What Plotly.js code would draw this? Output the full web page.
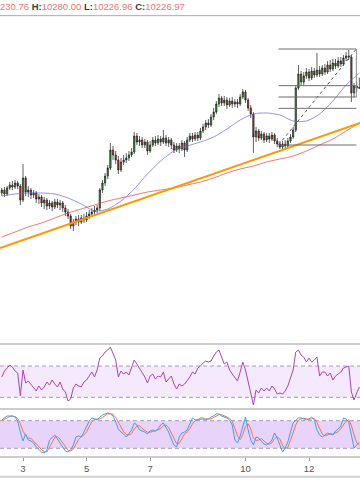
<!DOCTYPE html>
<html>
<head>
<meta charset="utf-8">
<script src="https://cdn.plot.ly/plotly-3.0.1.min.js"></script>
<style>
html,body{margin:0;padding:0;background:#fff;}
#chart{width:360px;height:504px;}
</style>
</head>
<body>
<div id="chart"></div>
<script>
// ---- data (2-hour candles starting 2019-09-02 08:00) ----
const candleStart = [2019, 8, 2, 8, 0];
const candleStepHours = 2;

const openP = [
9703,9718,9698,9728,9743,9733,9753,9738,9668,9778,
9708,9718,9693,9703,9673,9683,9653,9668,9638,9653,
9633,9658,9643,9653,9628,9608,9588,9538,9558,9573,
9558,9578,9568,9588,9598,9608,9618,9628,9718,9753,
9788,9828,9918,9893,9868,9818,9858,9868,9878,9893,
9908,9988,9958,9968,9943,9958,9913,9943,9968,9953,
9973,9958,9978,9953,9968,9943,9918,9938,9923,9953,
9918,9968,9988,9973,9993,9978,10013,10033,10053,10043,
10083,10108,10148,10178,10153,10168,10143,10163,10148,10158,
10148,10183,10208,10168,10128,10098,9983,10013,9978,9998,
9968,9988,9973,9993,9963,9948,9933,9948,9938,9963,
9983,10018,10228,10298,10258,10288,10308,10278,10313,10293,
10318,10298,10328,10308,10343,10323,10353,10338,10363,10348,
10378,10388,10383,10203,10238,10230.76];
const highP = [
9728,9733,9738,9758,9763,9768,9763,9748,9848,9788,
9738,9728,9718,9713,9698,9693,9683,9678,9668,9663,
9673,9673,9668,9663,9643,9623,9598,9573,9588,9593,
9593,9598,9608,9618,9628,9638,9643,9728,9768,9803,
9843,9953,9938,9913,9888,9878,9893,9903,9913,9928,
10008,10003,9988,9983,9973,9968,9963,9983,9988,9993,
9988,10018,9993,9983,9978,9958,9953,9953,9968,9963,
9983,10003,10003,10008,10008,10028,10048,10068,10073,10098,
10128,10163,10198,10188,10188,10183,10178,10183,10173,10173,
10198,10223,10218,10178,10143,10108,10033,10023,10013,10008,
10003,10003,10008,10003,9978,9963,9963,9968,9978,9998,
10033,10238,10343,10313,10308,10328,10323,10333,10328,10403,
10338,10343,10348,10363,10368,10373,10373,10383,10383,10393,
10408,10418,10393,10253,10258,10280.00];
const lowP = [
9688,9683,9688,9718,9718,9723,9723,9643,9658,9688,
9683,9673,9678,9653,9648,9633,9623,9618,9623,9613,
9623,9628,9618,9608,9588,9573,9523,9513,9543,9538,
9548,9553,9558,9573,9583,9593,9603,9613,9703,9738,
9773,9818,9868,9848,9798,9808,9843,9853,9863,9883,
9898,9943,9938,9928,9928,9893,9903,9933,9938,9943,
9938,9948,9938,9933,9923,9903,9908,9903,9913,9883,
9908,9958,9958,9963,9963,9968,10003,10018,10028,10033,
10068,10098,10133,10138,10138,10123,10133,10128,10133,10128,
10138,10173,10153,10113,10078,9903,9958,9963,9968,9953,
9958,9953,9963,9948,9933,9923,9918,9923,9928,9953,
9973,10008,10218,10238,10243,10273,10263,10268,10278,10283,
10283,10288,10293,10298,10308,10313,10323,10328,10333,10338,
10363,10368,10158,10183,10208,10226.96];
const closeP = [
9718,9698,9728,9743,9733,9753,9738,9668,9778,9708,
9718,9693,9703,9673,9683,9653,9668,9638,9653,9633,
9658,9643,9653,9628,9608,9588,9538,9558,9573,9558,
9578,9568,9588,9598,9608,9618,9628,9718,9753,9788,
9828,9918,9893,9868,9818,9858,9868,9878,9893,9908,
9988,9958,9968,9943,9958,9913,9943,9968,9953,9973,
9958,9978,9953,9968,9943,9918,9938,9923,9953,9918,
9968,9988,9973,9993,9978,10013,10033,10053,10043,10083,
10108,10148,10178,10153,10168,10143,10163,10148,10158,10148,
10183,10208,10168,10128,10098,9983,10013,9978,9998,9968,
9988,9973,9993,9963,9948,9933,9948,9938,9963,9983,
10018,10228,10298,10258,10288,10308,10278,10313,10293,10318,
10298,10328,10308,10343,10323,10353,10338,10363,10348,10378,
10388,10383,10203,10238,10228,10226.97];

// moving averages, one reading every 5 candles
const maEvery = 5;
const maFast = [9688,9698,9703,9703,9698,9678,9648,9613,9623,9663,9723,9798,9863,9913,
                9938,9958,9983,10023,10068,10098,10103,10093,10063,10063,10098,10163,10243,10303];
const maSlow = [9483,9508,9533,9553,9578,9603,9623,9643,9663,9678,9693,9708,9718,9728,
                9743,9758,9778,9803,9823,9838,9858,9873,9888,9913,9943,9973,10013,10053];

const rsi = [
56.0,63.6,67.4,71.3,68.7,63.6,61.1,31.7,64.9,48.3,
50.8,47.0,41.9,38.1,44.5,39.4,43.2,49.6,45.7,52.1,
47.0,43.2,49.6,40.6,36.8,25.3,27.9,41.9,47.0,44.5,
43.2,49.6,52.1,57.2,62.3,56.0,64.9,80.2,82.8,87.9,
90.4,94.3,86.6,77.7,56.0,63.6,59.8,62.3,58.5,67.4,
77.7,72.6,67.4,62.3,56.0,48.3,57.2,59.8,53.4,57.2,
56.0,62.3,49.6,53.4,57.2,47.0,40.6,47.0,44.5,47.0,
50.8,56.0,62.3,59.8,67.4,70.0,73.8,76.4,75.1,76.4,
82.8,87.9,90.4,80.2,72.6,75.1,64.9,59.8,54.7,50.8,
62.3,75.1,64.9,48.3,35.5,20.2,39.4,35.5,41.9,38.1,
41.9,38.1,44.5,40.6,34.2,35.5,34.2,38.1,44.5,54.7,
64.9,87.9,90.4,84.0,81.5,75.1,80.2,75.1,77.7,81.5,
57.2,62.3,62.3,57.2,61.1,52.1,57.2,59.8,62.3,67.4,
68.7,70.0,36.8,26.6,35.5,43.2];
const rsiUpper = 70, rsiLower = 30;

const stochK = [
81.5,85.9,90.2,90.2,90.2,88.0,79.3,55.4,35.9,51.1,
38.0,35.9,31.5,22.8,16.3,11.9,9.8,16.3,38.0,44.6,
48.9,40.2,31.5,20.6,14.1,11.9,16.3,27.2,44.6,46.7,
44.6,55.4,68.5,79.3,85.9,83.7,81.5,88.0,92.4,94.6,
96.7,94.6,90.2,77.2,62.0,55.4,51.1,44.6,51.1,59.8,
75.0,70.7,59.8,57.6,55.4,51.1,57.6,59.8,57.6,62.0,
70.7,75.0,64.1,55.4,40.2,27.2,22.8,44.6,53.3,55.4,
59.8,72.8,85.9,81.5,81.5,85.9,85.9,81.5,83.7,88.0,
90.2,94.6,94.6,90.2,88.0,85.9,81.5,70.7,38.0,31.5,
46.7,70.7,88.0,59.8,38.0,27.2,44.6,42.4,35.9,29.3,
27.2,31.5,38.0,53.3,42.4,25.0,11.9,20.6,33.7,55.4,
75.0,81.5,85.9,85.9,83.7,81.5,83.7,88.0,81.5,59.8,
48.9,44.6,48.9,53.3,51.1,48.9,57.6,62.0,68.5,85.9,
83.7,77.2,48.9,20.6,27.2,33.7];
const stochD = [
80,83,86,89,90,89,85,74,57,48,
42,42,35,30,24,17,13,12,21,33,
44,45,40,31,22,16,14,18,29,39,
45,49,56,68,78,83,84,84,87,92,
95,95,94,87,76,65,56,50,49,52,
62,68,69,63,58,55,55,56,58,60,
63,69,70,65,53,41,30,31,40,51,
56,63,73,80,83,83,84,84,84,84,
87,91,93,93,91,88,85,79,63,47,
39,50,68,73,62,42,37,38,41,36,
31,29,32,41,45,40,26,19,22,37,
55,71,81,84,85,84,83,84,85,76,
63,51,47,49,51,51,53,56,63,72,
79,82,70,49,32,27];
const stochUpper = 80, stochLower = 20;

// trend line and fibonacci drawing anchors (time, price)
const trendFrom = ['2019-09-02 06:38', 9428];
const trendTo   = ['2019-09-13 14:30', 10053];
const fibFromTime = '2019-09-11 01:00';
const fibToTime   = '2019-09-13 11:45';
const fibLow = 9943, fibHigh = 10423;
const fibLevels = [0, 0.382, 0.5, 0.618, 1];

const tickDays = ['2019-09-03','2019-09-05','2019-09-07','2019-09-10','2019-09-12'];
const tickLabels = ['3','5','7','10','12'];
const xRange = ['2019-09-02 06:38', '2019-09-13 14:30'];

// header line as visible in the reference (its left part is cut off there)
const legendLine = {o:'230.76', h:'10280.00', l:'10226.96', c:'10226.97'};

// ---- build ----
function fmt(ms){
  const d = new Date(ms), p = n => String(n).padStart(2,'0');
  return d.getUTCFullYear()+'-'+p(d.getUTCMonth()+1)+'-'+p(d.getUTCDate())+' '+p(d.getUTCHours())+':'+p(d.getUTCMinutes());
}
const t0 = Date.UTC.apply(null, candleStart);
const times = closeP.map((_, i) => fmt(t0 + i*candleStepHours*3600000));
const maTimes = maFast.map((_, i) => times[i*maEvery]);

const traces = [
  {type:'candlestick', x:times, open:openP, high:highP, low:lowP, close:closeP,
   xaxis:'x', yaxis:'y', whiskerwidth:0, hoverinfo:'skip',
   increasing:{line:{color:'#1e1e1e', width:0.7}, fillcolor:'#2aa32a'},
   decreasing:{line:{color:'#1e1e1e', width:0.7}, fillcolor:'#d32f2f'}},
  {type:'scatter', mode:'lines', x:maTimes, y:maFast, xaxis:'x', yaxis:'y',
   line:{color:'rgba(100,104,220,0.7)', width:1, shape:'spline', smoothing:0.8}, hoverinfo:'skip'},
  {type:'scatter', mode:'lines', x:maTimes, y:maSlow, xaxis:'x', yaxis:'y',
   line:{color:'rgba(240,70,70,0.75)', width:1, shape:'spline', smoothing:0.8}, hoverinfo:'skip'},
  {type:'scatter', mode:'lines', x:times, y:rsi, xaxis:'x', yaxis:'y2',
   line:{color:'#a547b8', width:1}, hoverinfo:'skip'},
  {type:'scatter', mode:'lines', x:times, y:stochD, xaxis:'x', yaxis:'y3',
   line:{color:'#ff7043', width:1}, hoverinfo:'skip'},
  {type:'scatter', mode:'lines', x:times, y:stochK, xaxis:'x', yaxis:'y3',
   line:{color:'#3f9ff0', width:1}, hoverinfo:'skip'}
];

const H = 504;
const py = px => 1 - px/H;
const shapes = [];
function hline(px, color, width){
  shapes.push({type:'line', xref:'paper', yref:'paper', x0:0, x1:1, y0:py(px), y1:py(px),
               line:{color:color, width:width}});
}
// indicator bands
shapes.push({type:'rect', xref:'paper', yref:'y2', x0:0, x1:1, y0:rsiLower, y1:rsiUpper,
             fillcolor:'#f4e9fd', line:{width:0}, layer:'below'});
shapes.push({type:'rect', xref:'paper', yref:'y3', x0:0, x1:1, y0:stochLower, y1:stochUpper,
             fillcolor:'#e8d3fb', line:{width:0}, layer:'below'});
[[rsiLower,'y2'],[rsiUpper,'y2'],[stochLower,'y3'],[stochUpper,'y3']].forEach(([v,ax]) => {
  shapes.push({type:'line', xref:'paper', yref:ax, x0:0, x1:1, y0:v, y1:v,
               line:{color:'#a59cb5', width:1, dash:'4px,3px'}, layer:'below'});
});
// trend line
shapes.push({type:'line', xref:'x', yref:'y', x0:trendFrom[0], y0:trendFrom[1], x1:trendTo[0], y1:trendTo[1],
             line:{color:'#ff9800', width:2}});
// fibonacci
fibLevels.forEach(r => {
  const v = fibLow + r*(fibHigh - fibLow);
  shapes.push({type:'line', xref:'x', yref:'y', x0:fibFromTime, x1:fibToTime, y0:v, y1:v,
               line:{color:'#6d6d6d', width:1}});
});
shapes.push({type:'line', xref:'x', yref:'y', x0:fibFromTime, y0:fibLow, x1:fibToTime, y1:fibHigh,
             line:{color:'#555', width:1, dash:'3px,3px'}});
shapes.push({type:'line', xref:'x', yref:'y', x0:fibToTime, x1:fibToTime, y0:fibHigh,
             y1:fibLow + 0.5*(fibHigh - fibLow), line:{color:'#8a8a8a', width:1}});
// panel separators
hline(15.7, '#a8a8a8', 1);
hline(344, '#9a9a9a', 1);
hline(409, '#9a9a9a', 1);
hline(457, '#9a9a9a', 1);
hline(476.7, '#d2d2d2', 2);

const red = '#f07474', dark = '#3a3a3a';
const legendText =
  '<span style="color:'+red+'">'+legendLine.o+'</span> '+
  '<span style="color:'+dark+'"><b>H:</b></span><span style="color:'+red+'">'+legendLine.h+'</span> '+
  '<span style="color:'+dark+'"><b>L:</b></span><span style="color:'+red+'">'+legendLine.l+'</span> '+
  '<span style="color:'+dark+'"><b>C:</b></span><span style="color:'+red+'">'+legendLine.c+'</span>';

const layout = {
  width:360, height:504, margin:{l:0,r:0,t:0,b:0,pad:0},
  paper_bgcolor:'#fff', plot_bgcolor:'#fff', showlegend:false,
  font:{family:'Liberation Sans, Arial, sans-serif', size:9.5, color:'#555'},
  xaxis:{type:'date', range:xRange, domain:[0,1], anchor:'y3', rangeslider:{visible:false},
         showgrid:false, zeroline:false, showline:false,
         tickvals:tickDays, ticktext:tickLabels, ticks:'outside', ticklen:3, tickcolor:'#999',
         tickfont:{size:9.5, color:'#555'}, fixedrange:true},
  yaxis:{domain:[py(343), py(17)], range:[8953, 10583], showgrid:false, zeroline:false,
         showticklabels:false, ticks:'', fixedrange:true},
  yaxis2:{domain:[py(409), py(344.5)], range:[15.1, 97.5], showgrid:false, zeroline:false,
          showticklabels:false, ticks:'', fixedrange:true},
  yaxis3:{domain:[py(457), py(409.5)], range:[1.1, 104.3], showgrid:false, zeroline:false,
          showticklabels:false, ticks:'', fixedrange:true},
  shapes:shapes,
  annotations:[{xref:'paper', yref:'paper', x:0, y:py(6.5), xanchor:'left', yanchor:'middle',
                borderpad:0, borderwidth:0,
                text:legendText, showarrow:false, font:{size:9.5, family:'Liberation Sans, Arial, sans-serif'}}]
};

Plotly.newPlot('chart', traces, layout, {staticPlot:true, displayModeBar:false});
</script>
</body>
</html>
